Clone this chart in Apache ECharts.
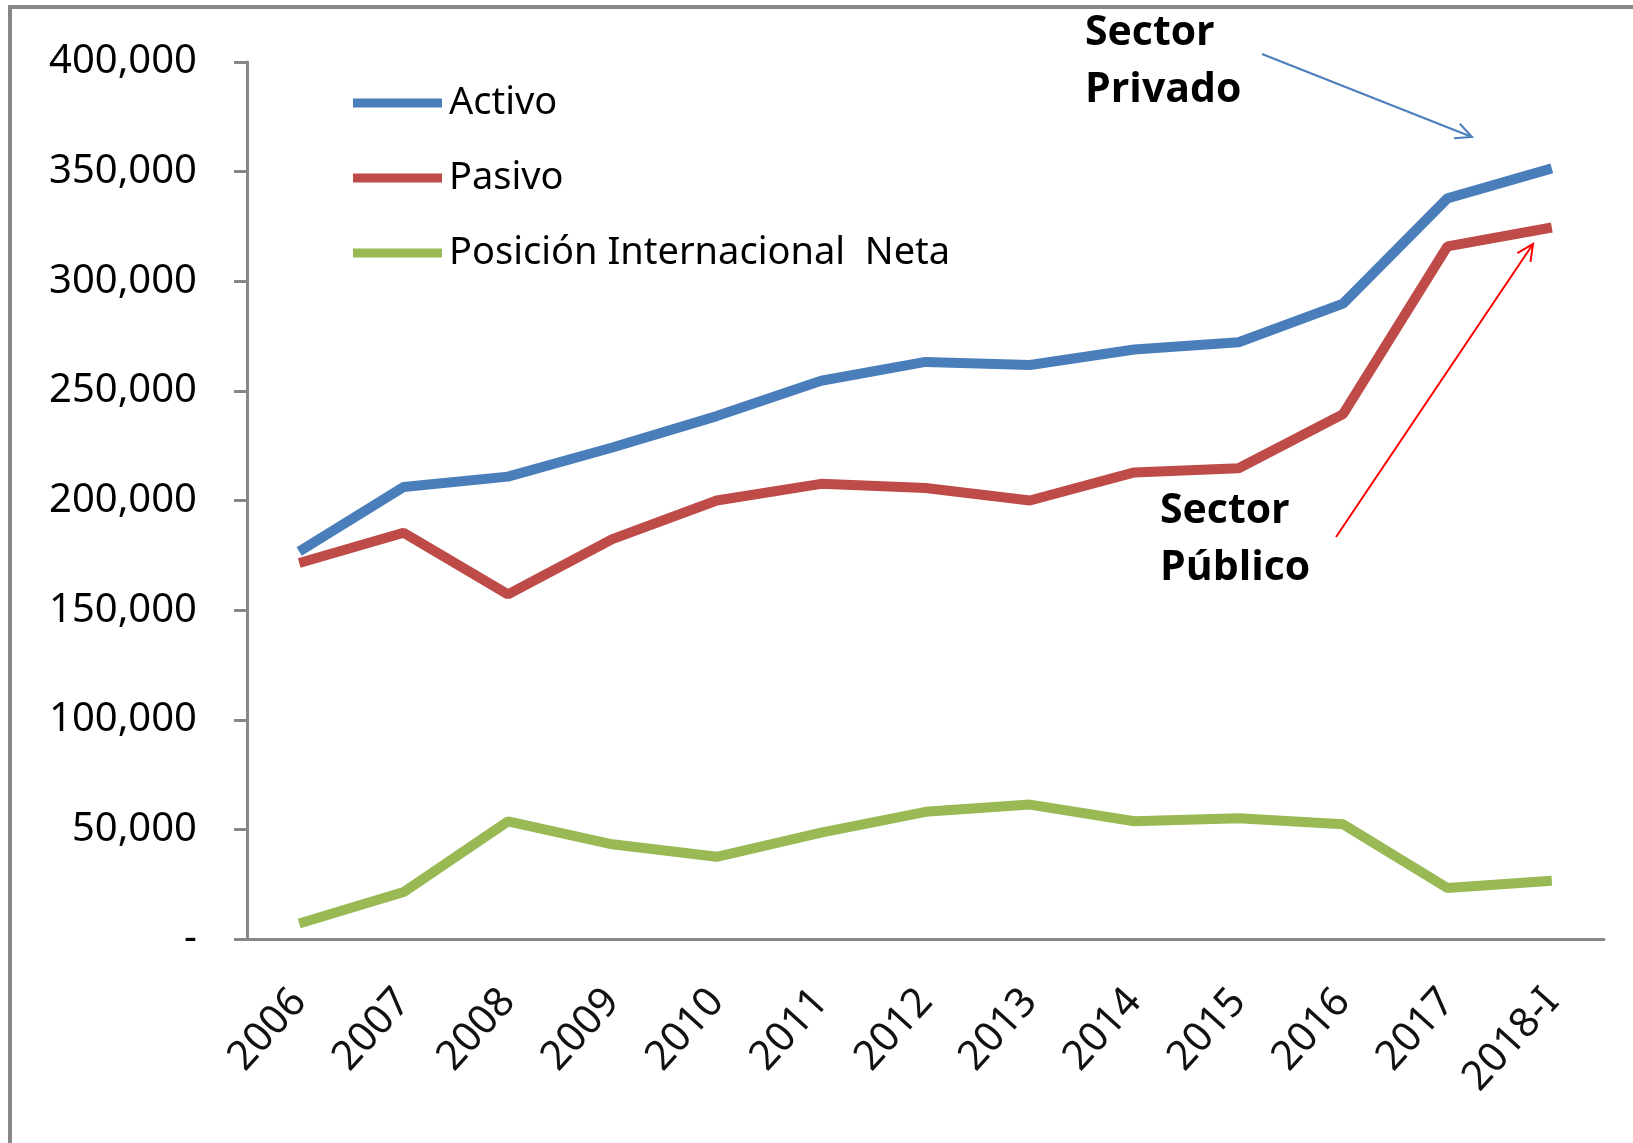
<!DOCTYPE html>
<html>
<head>
<meta charset="utf-8">
<script src="https://cdn.jsdelivr.net/npm/echarts@6/dist/echarts.min.js"></script>
<style>
  html, body { margin: 0; padding: 0; background: #fff; }
  #chart { width: 1633px; height: 1143px; }
</style>
</head>
<body>
<div id="chart"></div>
<script>
var years = ['2006', '2007', '2008', '2009', '2010', '2011', '2012', '2013', '2014', '2015', '2016', '2017', '2018-I'];
var activo = [176700, 206200, 210900, 224200, 238500, 254600, 263200, 261800, 268900, 272200, 289800, 337800, 351500];
var pasivo = [171500, 185300, 157200, 182400, 200000, 207600, 205700, 200000, 212800, 214700, 239400, 315900, 324500];
var neta = [7100, 21400, 53700, 43200, 37500, 48500, 58000, 61300, 53700, 55100, 52300, 23300, 26600];

var axisGray = '#878787';
var font = 'Noto Sans';

// little open arrow head for the annotation lines
function arrow(x1, y1, x2, y2, color) {
    var a = Math.atan2(y2 - y1, x2 - x1);
    var len = 18, spread = 0.45;
    return [
        { type: 'line', shape: { x1: x1, y1: y1, x2: x2, y2: y2 }, style: { stroke: color, lineWidth: 2 } },
        { type: 'polyline', shape: { points: [
            [x2 - len * Math.cos(a - spread), y2 - len * Math.sin(a - spread)],
            [x2, y2],
            [x2 - len * Math.cos(a + spread), y2 - len * Math.sin(a + spread)]
        ] }, style: { stroke: color, lineWidth: 2, fill: null } }
    ];
}

var note = { fontFamily: 'Open Sans', fontWeight: 'bold', fontSize: 41, fill: '#000' };

var option = {
    animation: false,
    backgroundColor: '#fff',
    grid: { left: 247, right: 29, top: 62, bottom: 204 },
    legend: {
        orient: 'vertical',
        left: 348,
        top: 78,
        icon: 'rect',
        itemWidth: 89,
        itemHeight: 9,
        itemGap: 35,
        textStyle: { fontFamily: font, fontSize: 38, color: '#000', lineHeight: 40, padding: [0, 0, 0, 2] },
        data: ['Activo', 'Pasivo', 'Posición Internacional  Neta']
    },
    xAxis: {
        type: 'category',
        data: years,
        boundaryGap: true,
        axisLine: { lineStyle: { color: axisGray, width: 3 } },
        axisTick: { length: 13, lineStyle: { color: axisGray, width: 2 } },
        axisLabel: {
            rotate: 48,
            interval: 0,
            margin: 56,
            fontFamily: font,
            fontSize: 41,
            color: '#111'
        }
    },
    yAxis: {
        type: 'value',
        min: 0,
        max: 400000,
        interval: 50000,
        splitLine: { show: false },
        axisLine: { show: true, lineStyle: { color: axisGray, width: 3 } },
        axisTick: { show: true, length: 13, lineStyle: { color: axisGray, width: 3 } },
        axisLabel: {
            margin: 50,
            fontFamily: font,
            fontSize: 40,
            color: '#000',
            formatter: function (v) { return v === 0 ? '-' : v.toLocaleString('en-US'); }
        }
    },
    series: [
        { name: 'Activo', type: 'line', data: activo, showSymbol: false, color: '#4a7ebb', lineStyle: { width: 10, color: '#4a7ebb' } },
        { name: 'Pasivo', type: 'line', data: pasivo, showSymbol: false, color: '#be4b48', lineStyle: { width: 10, color: '#be4b48' } },
        { name: 'Posición Internacional  Neta', type: 'line', data: neta, showSymbol: false, color: '#98b954', lineStyle: { width: 10, color: '#98b954' } }
    ],
    graphic: [
        { type: 'rect', shape: { x: 10, y: 7, width: 1700, height: 1200 }, style: { fill: null, stroke: axisGray, lineWidth: 4 }, z: -1 },
        { type: 'text', left: 1085, top: 5, style: Object.assign({ text: 'Sector\nPrivado', lineHeight: 57 }, note) },
        { type: 'text', left: 1160, top: 483, style: Object.assign({ text: 'Sector\nPúblico', lineHeight: 57 }, note) }
    ].concat(arrow(1262, 54, 1472, 137, '#4a7ebb'), arrow(1336, 537, 1533, 244, '#ff0000'))
};

var myChart = echarts.init(document.getElementById('chart'));
myChart.setOption(option);
</script>
</body>
</html>
